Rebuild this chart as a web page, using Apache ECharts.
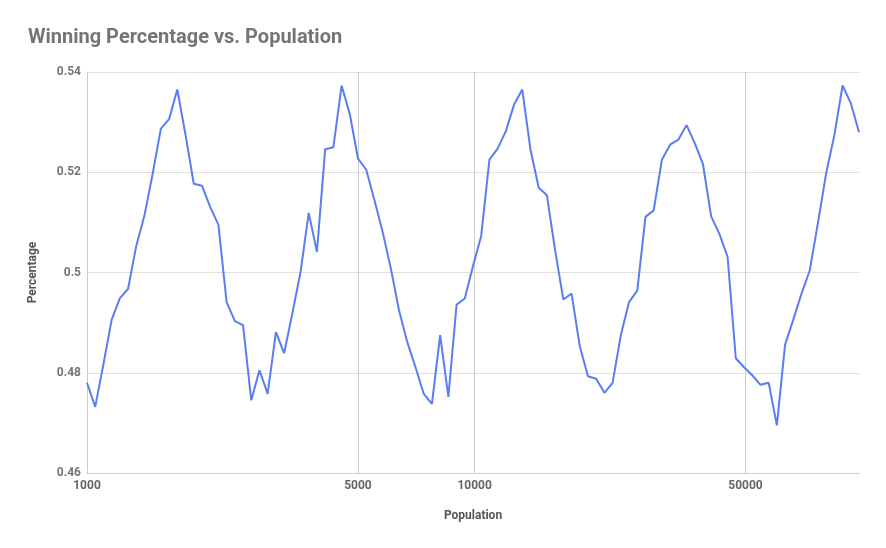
<!DOCTYPE html>
<html>
<head>
<meta charset="utf-8">
<title>Winning Percentage vs. Population</title>
<script src="https://cdn.jsdelivr.net/npm/echarts@6/dist/echarts.min.js"></script>
<style>
  html, body { margin: 0; padding: 0; background: #fff; }
  #main { width: 886px; height: 548px; }
</style>
</head>
<body>
<div id="main"></div>
<script>
// population values (x), log spaced
var population = [
  1000, 1050, 1103, 1158, 1216, 1276, 1340, 1407, 1477, 1551,
  1629, 1710, 1796, 1886, 1980, 2079, 2183, 2292, 2407, 2527,
  2653, 2786, 2925, 3072, 3225, 3386, 3556, 3733, 3920, 4116,
  4322, 4538, 4765, 5003, 5253, 5516, 5792, 6081, 6385, 6705,
  7040, 7392, 7762, 8150, 8557, 8985, 9434, 9906, 10401, 10921,
  11467, 12041, 12643, 13275, 13939, 14636, 15367, 16136, 16943, 17790,
  18679, 19613, 20594, 21624, 22705, 23840, 25032, 26284, 27598, 28978,
  30426, 31948, 33545, 35222, 36984, 38833, 40774, 42813, 44954, 47201,
  49562, 52040, 54642, 57374, 60242, 63254, 66417, 69738, 73225, 76886,
  80731, 84767, 89005, 93456, 98128
];
// winning percentage (y)
var percentage = [
  0.4780, 0.4732, 0.4818, 0.4906, 0.4949, 0.4967, 0.5053, 0.5114, 0.5197, 0.5287,
  0.5306, 0.5365, 0.5274, 0.5177, 0.5173, 0.5131, 0.5095, 0.4941, 0.4903, 0.4895,
  0.4745, 0.4805, 0.4758, 0.4881, 0.4839, 0.4918, 0.5001, 0.5119, 0.5041, 0.5246,
  0.5250, 0.5373, 0.5316, 0.5227, 0.5205, 0.5144, 0.5081, 0.5008, 0.4924, 0.4861,
  0.4811, 0.4758, 0.4738, 0.4875, 0.4752, 0.4936, 0.4948, 0.5013, 0.5073, 0.5225,
  0.5247, 0.5282, 0.5335, 0.5365, 0.5245, 0.5169, 0.5154, 0.5044, 0.4946, 0.4958,
  0.4853, 0.4793, 0.4788, 0.4760, 0.4780, 0.4875, 0.4941, 0.4964, 0.5111, 0.5124,
  0.5225, 0.5255, 0.5265, 0.5294, 0.5258, 0.5216, 0.5112, 0.5077, 0.5031, 0.4829,
  0.4811, 0.4795, 0.4776, 0.4780, 0.4695, 0.4856, 0.4906, 0.4958, 0.5004, 0.5099,
  0.5198, 0.5274, 0.5373, 0.5338, 0.5280
];
var xTicks = [1000, 5000, 10000, 50000];
var yTicks = [0.46, 0.48, 0.5, 0.52, 0.54];

var points = [];
for (var i = 0; i < population.length; i++) {
  points.push([population[i], percentage[i]]);
}

var chart = echarts.init(document.getElementById('main'));
var option = {
  backgroundColor: '#fff',
  animation: false,
  title: {
    text: 'Winning Percentage vs. Population',
    left: 23,
    top: 23,
    textStyle: {
      color: '#757575',
      fontFamily: 'Roboto',
      fontWeight: 'bold',
      fontSize: 20
    }
  },
  grid: {
    left: 87,
    right: 27,
    top: 72,
    bottom: 75,
    containLabel: false
  },
  xAxis: {
    type: 'log',
    logBase: 10,
    min: 1000,
    max: 98128,
    name: 'Population',
    nameLocation: 'middle',
    nameGap: 37,
    nameTextStyle: {
      color: '#555',
      fontFamily: 'Roboto',
      fontWeight: 'bold',
      fontSize: 12
    },
    axisLine: { show: true, lineStyle: { color: '#ccc', width: 1 } },
    axisTick: { show: false, customValues: xTicks },
    axisLabel: {
      customValues: xTicks,
      color: '#666',
      fontFamily: 'Roboto',
      fontWeight: 'bold',
      fontSize: 12,
      margin: 7,
      formatter: function (v) { return String(Math.round(v)); }
    },
    splitLine: { show: true, lineStyle: { color: '#ccc', width: 1 } }
  },
  yAxis: {
    type: 'value',
    min: 0.46,
    max: 0.54,
    interval: 0.02,
    name: 'Percentage',
    nameLocation: 'middle',
    nameGap: 48,
    nameTextStyle: {
      color: '#555',
      fontFamily: 'Roboto',
      fontWeight: 'bold',
      fontSize: 12
    },
    axisLine: { show: true, lineStyle: { color: '#ccc', width: 1 } },
    axisTick: { show: false },
    axisLabel: {
      color: '#757575',
      fontFamily: 'Roboto',
      fontWeight: 'bold',
      fontSize: 12,
      margin: 6,
      formatter: function (v) {
        for (var k = 0; k < yTicks.length; k++) {
          if (Math.abs(yTicks[k] - v) < 1e-9) return String(yTicks[k]);
        }
        return '';
      }
    },
    splitLine: { show: true, lineStyle: { color: '#e0e0e0', width: 1 } }
  },
  series: [{
    name: 'Percentage',
    type: 'line',
    data: points,
    showSymbol: false,
    symbol: 'none',
    lineStyle: { color: '#5b7df3', width: 2 },
    itemStyle: { color: '#5b7df3' }
  }]
};
chart.setOption(option);
</script>
</body>
</html>
